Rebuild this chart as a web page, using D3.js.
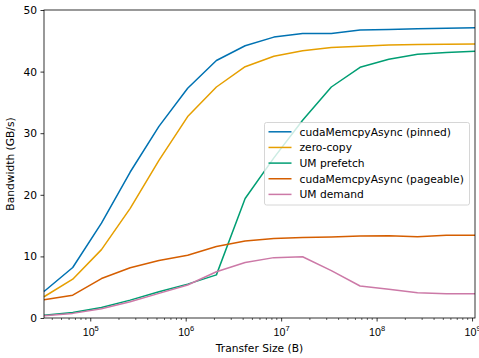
<!DOCTYPE html>
<html>
<head>
<meta charset="utf-8">
<script src="https://cdn.jsdelivr.net/npm/d3@7"></script>
<style>
  body { margin: 0; background: #fff; }
  svg { display: block; font-family: "DejaVu Sans", sans-serif; }
</style>
</head>
<body>
<div id="chart"></div>
<script>
// transfer sizes, 2^15 .. 2^30 bytes
const sizes = [32768, 65536, 131072, 262144, 524288, 1048576, 2097152, 4194304,
  8388608, 16777216, 33554432, 67108864, 134217728, 268435456, 536870912, 1073741824];

const seriesNames = ['cudaMemcpyAsync (pinned)', 'zero-copy', 'UM prefetch',
  'cudaMemcpyAsync (pageable)', 'UM demand'];

const pinned = [4.3, 8.2, 15.4, 23.7, 31.1, 37.3, 41.8, 44.2, 45.6, 46.2, 46.2, 46.75, 46.85, 46.95, 47.05, 47.1];
const zeroCopy = [3.45, 6.3, 11.1, 17.8, 25.6, 32.7, 37.5, 40.8, 42.5, 43.4, 43.9, 44.1, 44.3, 44.4, 44.45, 44.5];
const umPrefetch = [0.45, 0.9, 1.7, 2.9, 4.25, 5.5, 7.0, 19.4, 26.0, 32.1, 37.5, 40.7, 42.0, 42.8, 43.1, 43.3];
const pageable = [2.95, 3.7, 6.4, 8.15, 9.35, 10.2, 11.6, 12.5, 12.9, 13.05, 13.15, 13.3, 13.35, 13.2, 13.45, 13.45];
const umDemand = [0.35, 0.75, 1.5, 2.65, 4.0, 5.35, 7.5, 9.0, 9.8, 9.95, 7.7, 5.2, 4.65, 4.1, 3.95, 3.95];

const yTicks = [0, 10, 20, 30, 40, 50];
const xTickExps = [5, 6, 7, 8, 9];

const colors = ['#0072B2', '#E69F00', '#009E73', '#D55E00', '#CC79A7'];

const width = 479, height = 358;
const margin = {top: 10, right: 4, bottom: 40, left: 44};
const fontSize = 10.7;

const svg = d3.select('#chart').append('svg')
  .attr('width', width)
  .attr('height', height);

const x = d3.scaleLog()
  .domain([sizes[0], sizes[sizes.length - 1]])
  .range([margin.left, width - margin.right]);

const y = d3.scaleLinear()
  .domain([0, 50])
  .range([height - margin.bottom, margin.top]);

// y axis
const yAxis = svg.append('g')
  .attr('transform', `translate(${margin.left},0)`)
  .call(d3.axisLeft(y).tickValues(yTicks).tickSize(3.5).tickPadding(3.5).tickFormat(d3.format('d')));
yAxis.select('.domain').remove();
yAxis.selectAll('text').attr('font-size', fontSize).attr('fill', '#000').attr('font-family', 'DejaVu Sans');
yAxis.selectAll('line').attr('stroke', '#000').attr('stroke-width', 0.8);

// x axis, major ticks
const xAxis = svg.append('g')
  .attr('transform', `translate(0,${height - margin.bottom})`)
  .call(d3.axisBottom(x).tickValues(xTickExps.map(e => Math.pow(10, e))).tickSize(3.5).tickPadding(3.5).tickFormat(''));
xAxis.select('.domain').remove();
xAxis.selectAll('line').attr('stroke', '#000').attr('stroke-width', 0.8);

const labels = xAxis.selectAll('.tick')
  .append('text')
  .attr('y', 17.5)
  .attr('fill', '#000')
  .attr('font-size', fontSize)
  .attr('text-anchor', 'middle');
labels.append('tspan').text('10');
labels.append('tspan')
  .attr('font-size', 7.5)
  .attr('dy', -5)
  .text((d, i) => xTickExps[i]);

// minor ticks
const minor = [];
for (let e = 4; e <= 9; e++) {
  for (let m = 2; m <= 9; m++) {
    const v = m * Math.pow(10, e);
    if (v >= sizes[0] && v <= sizes[sizes.length - 1]) minor.push(v);
  }
}
svg.append('g')
  .selectAll('line')
  .data(minor)
  .enter()
  .append('line')
  .attr('x1', d => x(d))
  .attr('x2', d => x(d))
  .attr('y1', height - margin.bottom)
  .attr('y2', height - margin.bottom + 2)
  .attr('stroke', '#000')
  .attr('stroke-width', 0.6);

// lines
const allSeries = [pinned, zeroCopy, umPrefetch, pageable, umDemand];

const line = d3.line()
  .x((d, i) => x(sizes[i]))
  .y(d => y(d));

svg.append('g')
  .selectAll('path')
  .data(allSeries)
  .enter()
  .append('path')
  .attr('d', d => line(d))
  .attr('fill', 'none')
  .attr('stroke', (d, i) => colors[i])
  .attr('stroke-width', 1.5)
  .attr('stroke-linejoin', 'round');

// frame
svg.append('rect')
  .attr('x', margin.left)
  .attr('y', margin.top)
  .attr('width', width - margin.left - margin.right)
  .attr('height', height - margin.top - margin.bottom)
  .attr('fill', 'none')
  .attr('stroke', '#000')
  .attr('stroke-width', 0.8);

// axis labels
svg.append('text')
  .attr('x', (margin.left + width - margin.right) / 2)
  .attr('y', 352)
  .attr('text-anchor', 'middle')
  .attr('font-size', fontSize)
  .text('Transfer Size (B)');

svg.append('text')
  .attr('transform', `translate(14,${(margin.top + height - margin.bottom) / 2}) rotate(-90)`)
  .attr('text-anchor', 'middle')
  .attr('font-size', fontSize)
  .text('Bandwidth (GB/s)');

// legend
const legend = svg.append('g').attr('transform', 'translate(264.5,122.5)');
legend.append('rect')
  .attr('width', 205)
  .attr('height', 82.5)
  .attr('rx', 2)
  .attr('fill', '#fff')
  .attr('fill-opacity', 0.8)
  .attr('stroke', '#ccc')
  .attr('stroke-width', 0.8);

const items = legend.selectAll('.item')
  .data(seriesNames)
  .enter()
  .append('g')
  .attr('transform', (d, i) => `translate(0,${9.3 + i * 15.65})`);
items.append('line')
  .attr('x1', 4)
  .attr('x2', 27)
  .attr('stroke', (d, i) => colors[i])
  .attr('stroke-width', 1.5);
items.append('text')
  .attr('x', 35)
  .attr('dy', '0.35em')
  .attr('font-size', fontSize)
  .text(d => d);
</script>
</body>
</html>
